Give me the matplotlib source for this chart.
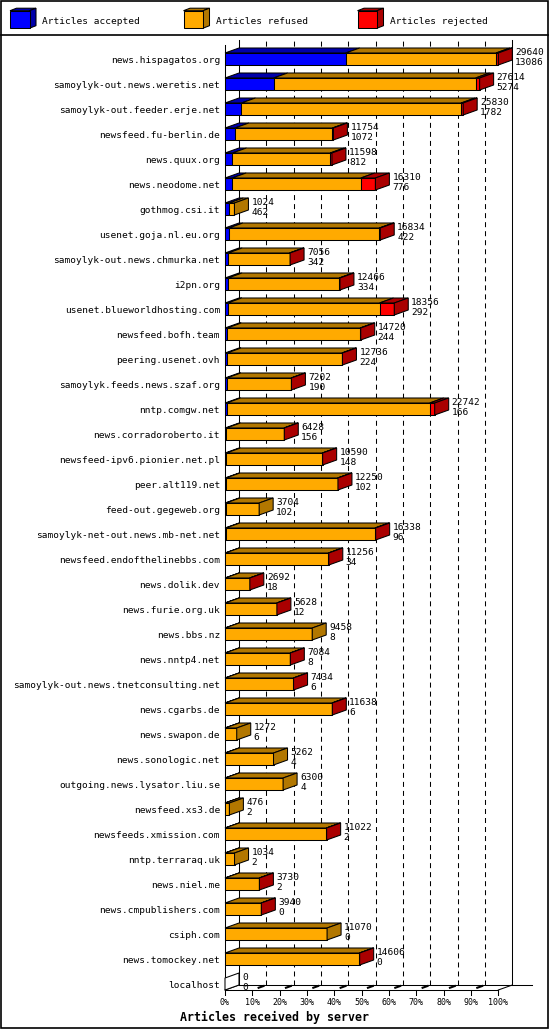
import matplotlib
matplotlib.use("Agg")
import matplotlib.pyplot as plt
from matplotlib.patches import Polygon, Rectangle

plt.rcParams["font.family"] = "DejaVu Sans Mono"
plt.rcParams["lines.scale_dashes"] = False

hosts = [
    "news.hispagatos.org", "samoylyk-out.news.weretis.net", "samoylyk-out.feeder.erje.net",
    "newsfeed.fu-berlin.de", "news.quux.org", "news.neodome.net", "gothmog.csi.it",
    "usenet.goja.nl.eu.org", "samoylyk-out.news.chmurka.net", "i2pn.org",
    "usenet.blueworldhosting.com", "newsfeed.bofh.team", "peering.usenet.ovh",
    "samoylyk.feeds.news.szaf.org", "nntp.comgw.net", "news.corradoroberto.it",
    "newsfeed-ipv6.pionier.net.pl", "peer.alt119.net", "feed-out.gegeweb.org",
    "samoylyk-net-out.news.mb-net.net", "newsfeed.endofthelinebbs.com", "news.dolik.dev",
    "news.furie.org.uk", "news.bbs.nz", "news.nntp4.net", "samoylyk-out.news.tnetconsulting.net",
    "news.cgarbs.de", "news.swapon.de", "news.sonologic.net", "outgoing.news.lysator.liu.se",
    "newsfeed.xs3.de", "newsfeeds.xmission.com", "nntp.terraraq.uk", "news.niel.me",
    "news.cmpublishers.com", "csiph.com", "news.tomockey.net", "localhost",
]
totals = [
    29640, 27614, 25830, 11754, 11598, 16310, 1024, 16834, 7056, 12466,
    18356, 14720, 12736, 7202, 22742, 6428, 10590, 12250, 3704, 16338,
    11256, 2692, 5628, 9458, 7084, 7434, 11638, 1272, 5262, 6300,
    476, 11022, 1034, 3730, 3940, 11070, 14606, 0,
]
accepted = [
    13086, 5274, 1782, 1072, 812, 776, 462, 422, 342, 334,
    292, 244, 224, 190, 166, 156, 148, 102, 102, 96,
    34, 18, 12, 8, 8, 6, 6, 6, 4, 4,
    2, 2, 2, 2, 0, 0, 0, 0,
]
rejected = [
    250, 440, 220, 100, 190, 1580, 0, 100, 60, 80,
    1600, 70, 60, 40, 540, 30, 30, 40, 0, 80,
    40, 10, 10, 0, 10, 10, 40, 0, 0, 0,
    0, 20, 0, 10, 10, 0, 20, 0,
]
refused = [t - a - r for t, a, r in zip(totals, accepted, rejected)]

series_names = ["Articles accepted", "Articles refused", "Articles rejected"]
front_colors = ["#0000ff", "#ffaa00", "#ff0000"]
dark_colors = ["#0000aa", "#b27700", "#aa0000"]
tick_labels = ["0%", "10%", "20%", "30%", "40%", "50%", "60%", "70%", "80%", "90%", "100%"]

W, H = 550, 1030
fig = plt.figure(figsize=(W / 100, H / 100), dpi=100)

# frame and legend, pixel coordinates
lax = fig.add_axes([0, 0, 1, 1])
lax.set_xlim(0, W)
lax.set_ylim(H, 0)
lax.axis("off")
lax.add_patch(Rectangle((1, 1), 547, 1027, fill=False, edgecolor="black", lw=1.2))
lax.plot([1, 548], [35, 35], color="black", lw=1.2)
legend_x = [10, 183.5, 357.5]
for lx, name, fc, dc in zip(legend_x, series_names, front_colors, dark_colors):
    fw, fh, cdx, cdy, ly = 19.5, 17.5, 6.5, 2.5, 10.7
    lax.add_patch(Polygon([(lx, ly), (lx + fw, ly), (lx + fw + cdx, ly - cdy), (lx + cdx, ly - cdy)],
                          facecolor=dc, edgecolor="black", lw=0.75))
    lax.add_patch(Polygon([(lx + fw, ly), (lx + fw + cdx, ly - cdy), (lx + fw + cdx, ly + fh - cdy),
                           (lx + fw, ly + fh)], facecolor=dc, edgecolor="black", lw=0.75))
    lax.add_patch(Rectangle((lx, ly), fw, fh, facecolor=fc, edgecolor="black", lw=0.75))
    lax.text(lx + 32, 24.5, name, fontsize=6.8, ha="left", va="baseline")

# plot area
x0_px, x1_px = 225, 498.3
row0_px, row_step = 59, 25
floor_px, top_px = 990, 40
depth_x, depth_y = 14, 5

ax = fig.add_axes([x0_px / W, 1 - floor_px / H, (x1_px - x0_px) / W, (floor_px - top_px) / H])
xmax = max(totals)
y_floor = (floor_px - row0_px) / row_step
y_top = (top_px - row0_px) / row_step
ax.set_xlim(0, xmax)
ax.set_ylim(y_floor, y_top)
ax.axis("off")

px = xmax / (x1_px - x0_px)
py = 1 / row_step
ddx = depth_x * px
ddy = -depth_y * py
lw = 0.75

# back wall grid
for k in range(11):
    xb = xmax * k / 10 + ddx
    ls = "-" if k in (0, 10) else (0, (3.6, 2.9))
    ax.plot([xb, xb], [y_floor + ddy, y_top], color="black", lw=lw, ls=ls, clip_on=False, zorder=1)

# axes frame
ax.plot([0, 0], [y_floor, y_top - ddy], color="black", lw=lw, clip_on=False)
ax.plot([0, xmax], [y_floor, y_floor], color="black", lw=lw, clip_on=False)
ax.plot([ddx, (532 - x0_px) * px], [y_floor + ddy, y_floor + ddy], color="black", lw=lw, clip_on=False)
for xk in (0, xmax):
    ax.plot([xk, xk + ddx], [y_floor, y_floor + ddy], color="black", lw=lw, clip_on=False)
for k, lab in enumerate(tick_labels):
    xk = xmax * k / 10
    ax.plot([xk, xk], [y_floor, y_floor + 5 * py], color="black", lw=lw, clip_on=False)
    if 0 < k < 10:
        ax.plot([xk + 0.45 * ddx, xk + 0.8 * ddx], [y_floor + 0.45 * ddy, y_floor + 0.8 * ddy],
                color="black", lw=1.5, clip_on=False)
    ax.text(xk, y_floor + 15 * py, lab, fontsize=6, ha="center", va="baseline")

# bars
for i, host in enumerate(hosts):
    yt, yb = i - 6 * py, i + 6 * py
    left = 0
    side_color = "white"
    for val, fc, dc in zip((accepted[i], refused[i], rejected[i]), front_colors, dark_colors):
        if val <= 0:
            continue
        right = left + val
        ax.add_patch(Polygon([(left, yt), (right, yt), (right + ddx, yt + ddy), (left + ddx, yt + ddy)],
                             facecolor=dc, edgecolor="black", lw=lw, zorder=3, clip_on=False))
        ax.add_patch(Rectangle((left, yt), val, yb - yt, facecolor=fc, edgecolor="black",
                               lw=lw, zorder=3, clip_on=False))
        side_color = dc
        left = right
    t = totals[i]
    ax.add_patch(Polygon([(t, yt), (t + ddx, yt + ddy), (t + ddx, yb + ddy), (t, yb)],
                         facecolor=side_color, edgecolor="black", lw=lw, zorder=3, clip_on=False))
    ax.text(t + ddx + 3 * px, i - 4 * py, f"{t}", fontsize=6.8, ha="left", va="baseline", zorder=4)
    ax.text(t + ddx + 3 * px, i + 6 * py, f"{accepted[i]}", fontsize=6.8, ha="left", va="baseline", zorder=4)
    ax.text(-5 * px, i + 4 * py, host, fontsize=6.8, ha="right", va="baseline")

fig.text(0.5, 1 - 1021 / H, "Articles received by server", fontsize=8.4, fontweight="bold",
         ha="center", va="baseline")

fig.savefig("out.png", dpi=100)
